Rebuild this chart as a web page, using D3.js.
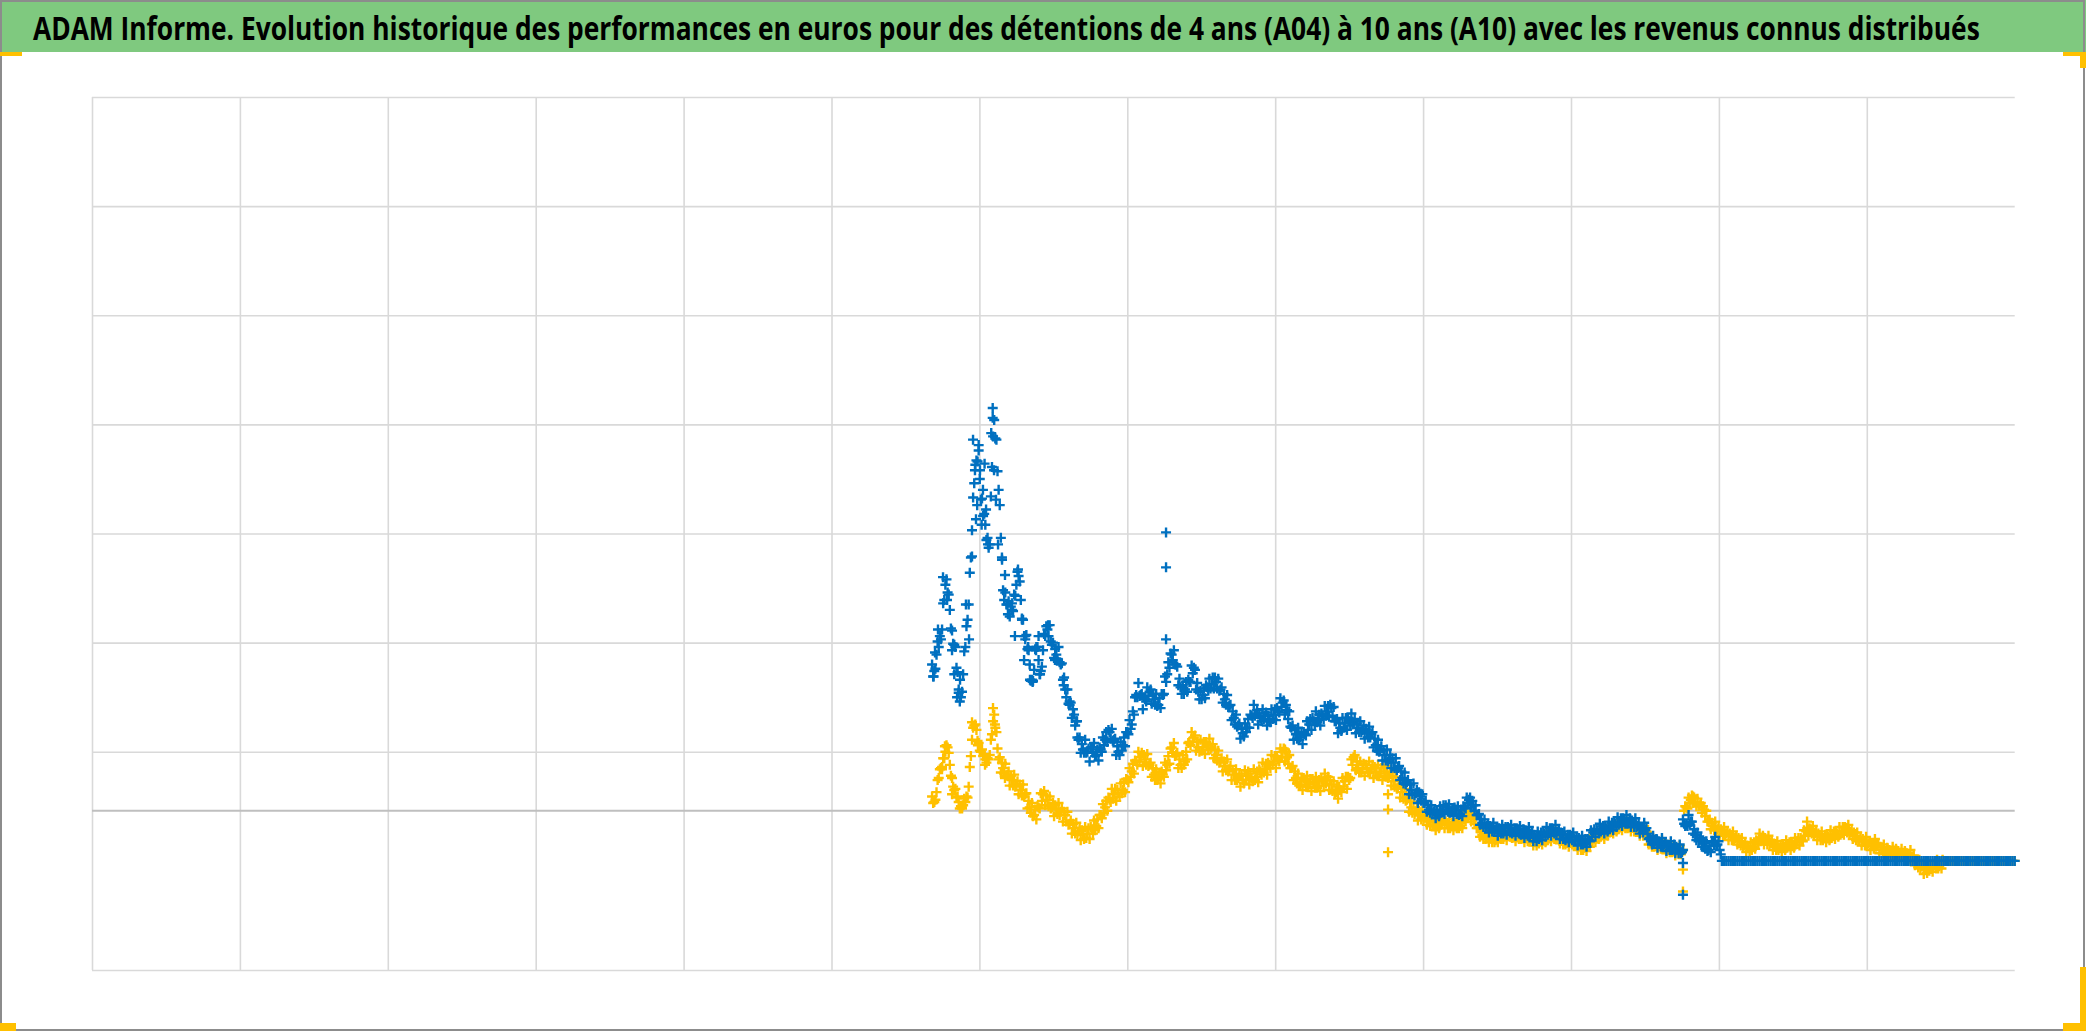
<!DOCTYPE html>
<html><head><meta charset="utf-8">
<script src="https://cdn.jsdelivr.net/npm/d3@7"></script>
<style>html,body{margin:0;padding:0;background:#fff;overflow:hidden}</style>
</head><body>
<svg id="chart" width="2086" height="1032"></svg>
<script>
// ---------- data ----------
const titleText = "ADAM Informe. Evolution historique des performances en euros pour des détentions de 4 ans (A04) à 10 ans (A10) avec les revenus connus distribués";
const xDomain = [0, 13];
const xGridTicks = [0,1,2,3,4,5,6,7,8,9,10,11,12];
const yDomain = [-146, 654];
const yGridTicks = [54,154,254,354,454,554,654];
const xStart = 5.68, xStep = 0.03;

// blue series, readings at xStart + i*xStep (band centre)
const blueValues = [134,143,157,207,184,152,111,125,175,257,
321,285,262,244,358,294,202,189,184,207,
193,157,134,129,138,147,166,152,143,134,
111,97,88,65,56,54,58,51,56,65,
72,65,54,60,72,79,106,106,102,109,
102,97,106,125,143,134,113,111,118,131,
109,106,113,116,118,111,102,96,85,78,
71,76,87,89,85,87,83,88,91,99,
92,76,70,67,70,79,82,83,87,91,
94,82,76,80,82,81,76,74,71,70,
60,56,51,47,44,39,30,26,19,16,
13,7,1,-1,-3,1,3,-1,1,-3,
3,10,5,-4,-11,-14,-16,-17,-17,-19,
-16,-19,-17,-20,-19,-21,-25,-23,-21,-19,
-17,-19,-22,-25,-23,-27,-27,-29,-27,-20,
-18,-17,-16,-14,-12,-10,-9,-10,-11,-14,
-17,-16,-28,-28,-30,-31,-33,-34,-35,-38,
-13,-10,-22,-27,-30,-36,-28,-31,
-46,-46,-46,-46,-46,-46,-46,-46,-46,-46,
-46,-46,-46,-46,-46,-46,-46,-46,-46,-46,
-46,-46,-46,-46,-46,-46,-46,-46,-46,-46,
-46,-46,-46,-46,-46,-46,-46,-46,-46,-46,
-46,-46,-46,-46,-46,-46,-46,-46,-46,-46,
-46,-46,-46,-46,-46,-46,-46,-46,-46,-46,
-46,-46,-46,-46,-46,-46,-46];

// blue, readings at xStart + (i+0.5)*xStep (band highs / lows)
const blueMidValues = [128,150,190,200,165,131,104,150,218,300,
335,270,250,315,340,250,200,178,198,215,
175,148,120,150,128,160,170,140,150,120,
111,85,82,53,65,45,62,46,67,63,
75,51,63,59,83,88,117,93,113,98,
107,94,123,131,147,115,115,109,133,111,
110,103,121,112,121,99,106,83,88,66,
80,76,97,79,93,78,93,83,103,88,
91,65,76,61,82,74,91,78,96,86,
95,71,85,74,89,71,82,66,77,58,
65,46,56,39,48,28,35,15,25,7,
15,-1,5,-7,4,-3,6,-5,4,-5,
12,3,5,-13,-8,-20,-11,-23,-13,-22,
-13,-23,-14,-25,-15,-28,-19,-27,-15,-23,
-13,-26,-19,-29,-20,-32,-23,-33,-18,-24,
-12,-21,-10,-18,-6,-14,-4,-15,-7,-21,
-11,-26,-23,-34,-25,-37,-28,-39,-31,-12,
-4,-21,-20,-33,-28,-38,-24,-36,
-46,-46,-46,-46,-46,-46,-46,-46,-46,-46,
-46,-46,-46,-46,-46,-46,-46,-46,-46,-46,
-46,-46,-46,-46,-46,-46,-46,-46,-46,-46,
-46,-46,-46,-46,-46,-46,-46,-46,-46,-46,
-46,-46,-46,-46,-46,-46,-46,-46,-46,-46,
-46,-46,-46,-46,-46,-46,-46,-46,-46,-46,
-46,-46,-46,-46,-46,-46];

// blue, readings at xStart + (i+0.25)*xStep and (i+0.75)*xStep (non-flat part)
const blueQ1Values = [123,155,166,212,167,150,100,146,189,287,
320,286,248,288,341,280,193,192,183,219,
176,161,119,148,125,162,160,154,139,135,
104,99,78,67,53,57,53,56,54,72,
66,66,51,67,70,91,104,107,100,111,
97,103,107,136,138,132,107,118,118,129,
102,112,110,122,112,113,97,97,79,80,
68,84,85,92,82,90,81,93,90,101,
84,78,66,72,69,84,79,88,84,96,
87,84,73,85,78,84,72,78,67,72,
55,59,46,51,39,41,25,28,15,19,
9,9,-2,1,-5,5,-1,2,-3,1,
2,12,0,-3,-15,-12,-19,-15,-21,-15,
-20,-16,-21,-17,-23,-19,-28,-20,-24,-16,
-21,-17,-26,-22,-27,-24,-31,-26,-28,-17,
-21,-14,-19,-11,-15,-7,-12,-7,-15,-12,
-20,-21,-31,-26,-33,-29,-36,-31,-39,-36,
-14,-10,-27,-25,-35,-32,-32,-28];
const blueQ3Values = [130,160,193,198,153,127,109,169,232,317,
304,272,241,343,311,232,189,187,197,210,
160,147,119,150,132,169,155,148,136,122,
98,93,67,61,53,58,50,58,60,74,
64,59,55,72,75,104,105,104,105,107,
96,107,118,144,134,121,107,120,126,117,
102,115,112,122,110,107,95,91,77,75,
72,88,87,89,84,87,84,94,95,97,
77,74,65,72,74,85,81,89,87,97,
82,80,76,85,79,80,72,75,67,66,
54,55,45,48,37,36,24,24,14,17,
7,5,-3,-1,-2,5,-2,3,-4,4,
7,9,-4,-8,-16,-14,-19,-16,-21,-15,
-21,-16,-22,-18,-23,-22,-26,-20,-22,-16,
-21,-20,-27,-22,-28,-25,-31,-26,-24,-17,
-19,-14,-17,-11,-13,-7,-12,-9,-15,-15,
-18,-25,-30,-28,-33,-31,-36,-33,-39,-14,
-12,-17,-28,-27,-37,-29,-32,-40];

// gold series
const goldValues = [13,17,39,54,42,19,8,5,12,65,
74,54,47,51,88,47,39,33,28,24,
19,15,3,-4,3,15,10,3,1,-1,
-4,-12,-16,-19,-21,-21,-17,-14,-4,3,
10,15,16,19,28,36,45,49,47,42,
33,30,33,42,58,51,42,45,63,67,
58,58,60,58,51,45,41,38,33,30,
28,32,30,31,36,38,42,45,47,54,
49,39,30,24,27,24,26,23,27,28,
24,17,19,27,28,49,39,38,39,38,
36,34,36,32,27,21,17,10,3,-1,
-4,-6,-10,-13,-14,-10,-12,-14,-12,-14,
-8,-4,-6,-16,-22,-24,-25,-27,-22,-24,
-20,-24,-22,-25,-24,-26,-29,-27,-26,-24,
-22,-24,-27,-29,-27,-31,-32,-34,-31,-25,
-23,-22,-21,-17,-16,-14,-13,-14,-15,-17,
-20,-19,-30,-31,-32,-33,-35,-36,-37,-38,
3,10,8,5,1,-10,-14,-17,-19,-21,
-23,-25,-28,-32,-34,-33,-28,-25,-27,-29,
-33,-34,-33,-32,-31,-28,-27,-19,-17,-21,
-23,-25,-24,-22,-21,-19,-16,-20,-23,-27,
-28,-30,-32,-31,-36,-37,-38,-38,-39,-40,
-41,-42,-48,-51,-54,-52,-50,-51,-46,
-46,-46,-46,-46,-46,-46,-46,-46,-46,-46,
-46,-46,-46,-46,-46,-46];

const goldMidValues = [8,30,48,58,30,12,4,8,40,78,
62,50,48,70,72,35,43,23,33,15,
24,2,7,-8,16,5,13,-5,7,-10,
-1,-21,-11,-27,-15,-26,-9,-16,6,0,
20,9,25,17,39,34,54,41,52,31,
38,25,44,43,62,39,51,47,72,55,
65,52,66,48,55,36,47,28,38,22,
37,24,38,26,44,33,51,39,57,45,
51,28,34,19,32,18,31,18,34,19,
27,11,30,20,47,37,45,32,45,30,
42,28,41,23,31,12,20,-1,8,-9,
0,-13,-6,-18,-7,-16,-8,-18,-8,-16,
-1,-10,-6,-24,-18,-29,-21,-29,-18,-27,
-17,-28,-18,-29,-20,-32,-23,-31,-20,-28,
-18,-30,-23,-33,-24,-36,-28,-37,-23,-29,
-17,-26,-14,-21,-10,-18,-8,-19,-11,-23,
-14,-31,-25,-36,-27,-39,-30,-41,-32,0,
12,7,11,-2,0,-17,-10,-23,-15,-27,
-19,-31,-25,-38,-29,-35,-21,-31,-23,-36,
-28,-38,-27,-36,-25,-32,-18,-23,-14,-27,
-19,-29,-18,-26,-15,-22,-13,-26,-20,-32,
-24,-36,-26,-39,-31,-42,-33,-43,-35,-45,
-36,-50,-45,-58,-48,-56,-45,-53,
-46,-46,-46,-46,-46,-46,-46,-46,-46,-46,
-46,-46,-46,-46,-46,-46];

const goldQ1Values = [7,28,40,60,32,20,2,11,22,76,
64,56,44,65,76,49,34,36,23,27,
14,16,-2,1,2,18,4,7,-3,2,
-10,-9,-21,-16,-26,-16,-21,-8,-7,9,
8,20,13,26,26,43,42,53,42,44,
28,35,31,50,53,53,39,54,60,69,
54,63,56,61,46,48,37,41,28,34,
25,36,27,36,33,43,39,50,45,57,
43,41,25,29,22,29,21,28,23,31,
18,22,17,31,30,51,35,43,35,42,
32,39,31,35,22,24,11,12,-2,2,
-8,-4,-14,-10,-16,-8,-16,-11,-16,-10,
-10,-2,-12,-15,-26,-21,-29,-23,-26,-20,
-24,-21,-26,-22,-28,-24,-32,-24,-29,-21,
-26,-22,-31,-26,-31,-28,-36,-30,-33,-22,
-26,-19,-23,-14,-19,-11,-16,-11,-19,-15,
-23,-20,-33,-28,-35,-31,-38,-33,-40,-36,
2,14,4,7,-5,-8,-18,-15,-23,-19,
-27,-23,-32,-30,-37,-29,-30,-23,-31,-27,
-36,-31,-36,-29,-34,-25,-28,-16,-21,-19,
-27,-22,-27,-19,-24,-15,-20,-18,-27,-24,
-32,-28,-35,-30,-39,-34,-41,-35,-43,-37,
-44,-41,-52,-49,-57,-49,-53,-47];
const goldQ3Values = [10,38,48,53,22,13,2,13,50,79,
55,52,47,82,57,44,32,32,22,24,
13,9,-5,4,9,14,2,5,-4,-1,
-13,-12,-22,-18,-25,-15,-18,-4,-2,12,
11,19,16,29,31,46,45,51,41,39,
28,36,37,57,50,47,42,62,63,63,
55,63,56,56,44,45,36,37,28,32,
28,34,28,38,35,44,42,50,49,54,
39,36,23,30,22,29,21,29,25,28,
16,22,22,31,42,45,35,42,35,40,
32,39,30,32,20,21,9,8,-3,0,
-8,-7,-14,-12,-13,-10,-16,-11,-16,-8,
-7,-4,-16,-19,-26,-23,-29,-21,-26,-19,
-25,-21,-26,-22,-28,-26,-30,-24,-27,-21,
-26,-24,-31,-26,-32,-30,-36,-30,-29,-22,
-24,-19,-20,-14,-17,-11,-16,-13,-19,-17,
-21,-26,-33,-30,-35,-33,-38,-35,-40,4,
7,12,4,4,-10,-11,-18,-17,-23,-21,
-27,-25,-33,-32,-36,-27,-28,-25,-31,-30,
-36,-31,-34,-29,-31,-25,-23,-16,-22,-21,
-27,-22,-25,-19,-22,-15,-21,-20,-28,-26,
-32,-30,-33,-33,-39,-36,-40,-37,-42,-39,
-44,-45,-53,-52,-55,-49,-53,-45];

// isolated points [x, value]
const blueExtra = [[5.69,123],[5.70,145],[5.72,166],[5.754,214],[5.781,193],[5.815,147],[5.83,125],[5.849,104],[5.86,108],[5.869,120],
[5.909,189],[5.93,157],[5.95,233],[5.957,340],[5.97,312],[5.977,267],[6.004,312],[6.024,294],[6.045,276],[6.058,244],
[6.09,369],[6.09,360],[6.08,346],[6.099,312],[6.112,285],[6.126,244],[6.153,230],[6.173,216],[6.193,180],[6.261,221],
[6.288,175],[6.302,138],[6.33,150],[6.342,120],[6.36,118],[6.383,147],[6.40,160],[6.41,125],[6.464,170],[6.511,138],
[6.57,115],[6.61,100],[6.66,82],[5.995,330],[6.015,262],[6.035,318],[5.985,280],[6.22,190],[6.24,160],[6.31,160],
[7.262,255],[7.262,223],[7.262,157],
[10.757,-8],[10.757,-48],[10.757,-77]];

const goldExtra = [[5.747,38],[5.767,59],[5.815,15],[5.882,3],[5.95,81],[5.99,60],[6.038,42],[6.092,94],[6.105,79],[6.173,30],
[8.066,56],[8.763,15],[8.763,1],[8.763,-38],
[10.757,-54],[10.757,-74],[10.825,13],
[11.596,-10],[11.866,-16]];

// ---------- drawing ----------
const svg = d3.select('#chart');
const plot = {left: 92, top: 97, bottom: 970};
const x = d3.scaleLinear().domain(xDomain).range([plot.left, plot.left + 13 * 147.9]);
const y = d3.scaleLinear().domain(yDomain).range([plot.bottom, plot.top]);

svg.append('rect').attr('x',0).attr('y',0).attr('width',2086).attr('height',1032).attr('fill','#fff');

// title banner
svg.append('rect').attr('x',0).attr('y',0).attr('width',2086).attr('height',52).attr('fill','#7fc97f');
const title = svg.append('text').attr('x',0).attr('y',0)
  .attr('font-family','"Open Sans", "Noto Sans", sans-serif').attr('font-weight',700).attr('font-size',33)
  .attr('fill','#000').text(titleText);
const natural = title.node().getComputedTextLength();
title.attr('transform', `translate(33,40) scale(${1947/natural},1)`);

// gridlines
const gx = svg.append('g').attr('transform',`translate(0,${plot.bottom})`)
  .call(d3.axisBottom(x).tickValues(xGridTicks).tickSize(-(plot.bottom-plot.top)).tickFormat(''));
gx.select('.domain').remove();
gx.selectAll('.tick line').attr('stroke','#d9d9d9').attr('stroke-width',1.6);

const gy = svg.append('g').attr('transform',`translate(${plot.left},0)`)
  .call(d3.axisLeft(y).tickValues(yGridTicks.concat([yDomain[0]])).tickSize(-(x(13)-plot.left)).tickFormat(''));
gy.select('.domain').remove();
gy.selectAll('.tick line').attr('stroke','#d9d9d9').attr('stroke-width',1.6);

// zero axis
svg.append('line').attr('x1',plot.left).attr('x2',x(13)).attr('y1',y(0)).attr('y2',y(0))
  .attr('stroke','#bfbfbf').attr('stroke-width',2);

// markers
const plus = 'M-5,0H5M0,-5V5';
function drawSeries(pts, color){
  svg.append('g').selectAll('path').data(pts).join('path')
    .attr('d', plus)
    .attr('transform', d => `translate(${x(d[0])},${y(d[1])})`)
    .attr('stroke', color).attr('stroke-width', 2.4).attr('fill','none');
}
const toPts = (vals, offset) => vals.map((v,i)=>[xStart + (i+offset)*xStep, v]);
const goldPts = toPts(goldValues,0).concat(toPts(goldQ1Values,0.25), toPts(goldMidValues,0.5), toPts(goldQ3Values,0.75), goldExtra);
const bluePts = toPts(blueValues,0).concat(toPts(blueQ1Values,0.25), toPts(blueMidValues,0.5), toPts(blueQ3Values,0.75), blueExtra);
drawSeries(goldPts, '#ffc000');
drawSeries(bluePts, '#0070c0');

// outer frame and corner marks
svg.append('rect').attr('x',1).attr('y',1).attr('width',2083).attr('height',1029)
  .attr('fill','none').attr('stroke','#8c8c8c').attr('stroke-width',2);
const marks = [[0,52,22,4],[2063,52,23,4],[2080,52,6,16],[0,1023,16,8],[2063,1023,23,8],[2080,967,6,63]];
svg.append('g').selectAll('rect').data(marks).join('rect')
  .attr('x',d=>d[0]).attr('y',d=>d[1]).attr('width',d=>d[2]).attr('height',d=>d[3]).attr('fill','#ffc000');
</script>
</body></html>
